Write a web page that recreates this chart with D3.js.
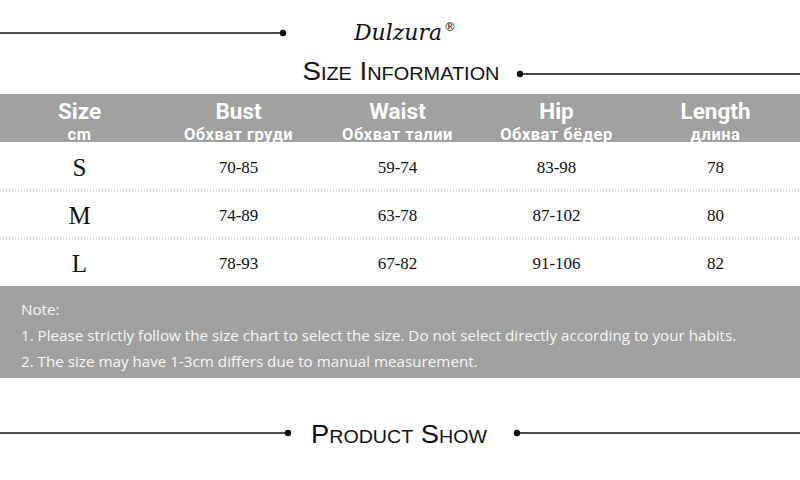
<!DOCTYPE html>
<html>
<head>
<meta charset="utf-8">
<script src="https://cdn.jsdelivr.net/npm/d3@7"></script>
<style>
  html, body { margin: 0; padding: 0; background: #fff; }
</style>
</head>
<body>
<div id="chart"></div>
<script>
// table content
const columns = ["Size", "Bust", "Waist", "Hip", "Length"];
const subLabels = ["cm", "Обхват груди", "Обхват талии", "Обхват бёдер", "длина"];
const sizes = ["S", "M", "L"];
const bust = ["70-85", "74-89", "78-93"];
const waist = ["59-74", "63-78", "67-82"];
const hip = ["83-98", "87-102", "91-106"];
const length = ["78", "80", "82"];
const notes = [
  "Note:",
  "1. Please strictly follow the size chart to select the size. Do not select directly according to your habits.",
  "2. The size may have 1-3cm differs due to manual measurement."
];

const width = 800, height = 480;
const gray = "#a0a0a0";

const svg = d3.select("#chart").append("svg")
  .attr("width", width)
  .attr("height", height);

// decorative rule with a dot at one end
function rule(x1, x2, y, dotX) {
  svg.append("line")
    .attr("x1", x1).attr("x2", x2).attr("y1", y).attr("y2", y)
    .attr("stroke", "#111").attr("stroke-width", 1.3);
  svg.append("circle")
    .attr("cx", dotX).attr("cy", y).attr("r", 3.2)
    .attr("fill", "#111");
}

// brand + title
rule(0, 283, 33, 283);
svg.append("text")
  .attr("x", 398).attr("y", 40)
  .attr("text-anchor", "middle")
  .attr("font-family", "DejaVu Serif, serif")
  .attr("font-style", "italic")
  .attr("font-size", "22px")
  .attr("fill", "#111")
  .attr("textLength", 88)
  .attr("lengthAdjust", "spacingAndGlyphs")
  .text("Dulzura");
svg.append("text")
  .attr("x", 450).attr("y", 31)
  .attr("text-anchor", "middle")
  .attr("font-family", "DejaVu Sans, sans-serif")
  .attr("font-size", "12px")
  .attr("fill", "#111")
  .text("®");

svg.append("text")
  .attr("x", 401).attr("y", 80)
  .attr("text-anchor", "middle")
  .attr("font-family", "Liberation Sans, sans-serif")
  .attr("font-variant", "small-caps")
  .attr("font-size", "25px")
  .attr("fill", "#111")
  .attr("textLength", 197)
  .attr("lengthAdjust", "spacingAndGlyphs")
  .text("Size Information");
rule(520, 800, 74, 520);

// table scales
const x = d3.scaleBand().domain(columns).range([0, 795]);
const xc = c => x(c) + x.bandwidth() / 2;
const y = d3.scaleBand().domain(sizes).range([143, 287]);
const yc = s => y(s) + y.bandwidth() / 2;

// header band
svg.append("rect")
  .attr("x", 0).attr("y", 94)
  .attr("width", width).attr("height", 48)
  .attr("fill", gray);

const head = svg.append("g").selectAll("g")
  .data(columns)
  .join("g")
  .attr("transform", c => `translate(${xc(c)},0)`);

head.append("text")
  .attr("y", 119)
  .attr("text-anchor", "middle")
  .attr("font-family", "Roboto, sans-serif")
  .attr("font-weight", "bold")
  .attr("font-size", "22.5px")
  .attr("fill", "#fff")
  .text(d => d);

head.append("text")
  .attr("y", 139.5)
  .attr("text-anchor", "middle")
  .attr("font-family", "Roboto, sans-serif")
  .attr("font-weight", "bold")
  .attr("font-size", "16.5px")
  .attr("letter-spacing", "0.5px")
  .attr("fill", "#fff")
  .text((d, i) => subLabels[i]);

// rows
const rows = sizes.map((s, i) => [s, bust[i], waist[i], hip[i], length[i]]);

const row = svg.append("g").selectAll("g")
  .data(rows)
  .join("g")
  .attr("transform", d => `translate(0,${yc(d[0])})`);

row.selectAll("text")
  .data(d => d)
  .join("text")
  .attr("x", (d, i) => xc(columns[i]))
  .attr("y", (d, i) => i === 0 ? 9 : 6)
  .attr("text-anchor", "middle")
  .attr("font-family", "Liberation Serif, serif")
  .attr("font-size", (d, i) => i === 0 ? "25px" : "17px")
  .attr("fill", "#111")
  .text(d => d);

// dotted separators between rows
svg.append("g").selectAll("line")
  .data(sizes.slice(1))
  .join("line")
  .attr("x1", 0).attr("x2", width)
  .attr("y1", s => y(s) - 1).attr("y2", s => y(s) - 1)
  .attr("stroke", "#999")
  .attr("stroke-width", 1)
  .attr("stroke-dasharray", "1,2");

// note box
svg.append("rect")
  .attr("x", 0).attr("y", 286)
  .attr("width", width).attr("height", 92)
  .attr("fill", gray);

svg.append("g").selectAll("text")
  .data(notes)
  .join("text")
  .attr("x", 21)
  .attr("y", (d, i) => 315 + i * 26)
  .attr("font-family", "Open Sans, sans-serif")
  .attr("font-size", "15.2px")
  .attr("fill", "#f6f6f6")
  .text(d => d);

// product show heading
rule(0, 288, 433, 288);
rule(517, 800, 433, 517);
svg.append("text")
  .attr("x", 399).attr("y", 443)
  .attr("text-anchor", "middle")
  .attr("font-family", "Liberation Sans, sans-serif")
  .attr("font-variant", "small-caps")
  .attr("font-size", "25px")
  .attr("fill", "#111")
  .attr("textLength", 176)
  .attr("lengthAdjust", "spacingAndGlyphs")
  .text("Product Show");
</script>
</body>
</html>
